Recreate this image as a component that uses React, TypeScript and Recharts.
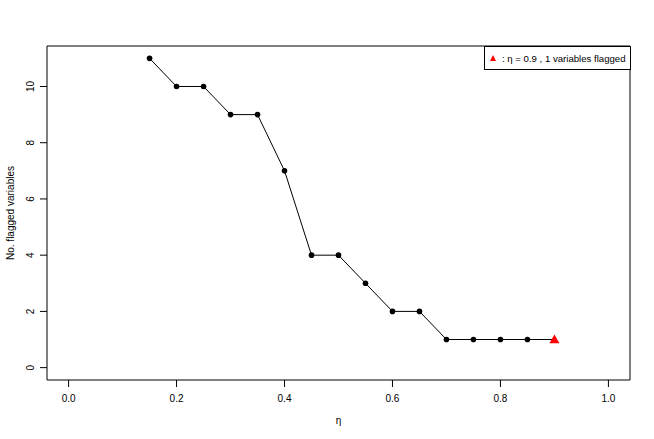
import React from "react";
import {
  ComposedChart,
  Line,
  Scatter,
  XAxis,
  YAxis,
  ReferenceArea,
} from "recharts";

// eta grid and number of flagged variables at each value
const etas = [0.15, 0.2, 0.25, 0.3, 0.35, 0.4, 0.45, 0.5, 0.55, 0.6, 0.65, 0.7, 0.75, 0.8, 0.85, 0.9];
const flagged = [11, 10, 10, 9, 9, 7, 4, 4, 3, 2, 2, 1, 1, 1, 1, 1];

// chosen eta (red triangle)
const chosenEta = [0.9];
const chosenFlagged = [1];

const xTicks = [0, 0.2, 0.4, 0.6, 0.8, 1.0];
const yTicks = [0, 2, 4, 6, 8, 10];

const lineData = etas.map((eta, i) => ({ eta, n: flagged[i] }));
const chosenData = chosenEta.map((eta, i) => ({ eta, n: chosenFlagged[i] }));

const FONT = "'Liberation Sans', Arial, sans-serif";
const FS = 10;

function YTick(props: any) {
  const { y, payload } = props;
  return (
    <g>
      <line x1={40} x2={47} y1={y} y2={y} stroke="#000" />
      <text
        x={31}
        y={y}
        transform={`rotate(-90, 31, ${y})`}
        textAnchor="middle"
        dominantBaseline="central"
        fontSize={FS}
        fontFamily={FONT}
        fill="#000"
      >
        {payload.value}
      </text>
    </g>
  );
}

function XTick(props: any) {
  const { x, payload } = props;
  return (
    <g>
      <line x1={x} x2={x} y1={380} y2={387} stroke="#000" />
      <text
        x={x}
        y={398}
        textAnchor="middle"
        dominantBaseline="central"
        fontSize={FS}
        fontFamily={FONT}
        fill="#000"
      >
        {Number(payload.value).toFixed(1)}
      </text>
    </g>
  );
}

function Dot(props: any) {
  const { cx, cy, payload } = props;
  if (chosenEta.includes(payload.eta)) return <g />;
  return <circle cx={cx} cy={cy} r={2.8} fill="#000" />;
}

function Triangle(props: any) {
  const { cx, cy } = props;
  const s = 5;
  return (
    <polygon
      points={`${cx},${cy - s} ${cx - s},${cy + s * 0.75} ${cx + s},${cy + s * 0.75}`}
      fill="#ff0000"
    />
  );
}

function LegendBox() {
  return (
    <div
      style={{
        position: "absolute",
        left: 484,
        top: 46,
        border: "1px solid #000",
        background: "#fff",
        width: 147,
        height: 24,
        boxSizing: "border-box",
        fontFamily: FONT,
        fontSize: 9.6,
        display: "flex",
        alignItems: "center",
        paddingLeft: 4,
        whiteSpace: "nowrap",
        color: "#000",
      }}
    >
      <svg width={8} height={8} style={{ marginRight: 5 }}>
        <polygon points="4,1 1,7 7,7" fill="#ff0000" />
      </svg>
      <span>: η = 0.9 , 1 variables flagged</span>
    </div>
  );
}

export default function App() {
  return (
    <div style={{ position: "absolute", left: 0, top: 0, width: 654, height: 439, background: "#fff" }}>
      <ComposedChart width={654} height={439} margin={{ top: 46, right: 24, bottom: 0, left: 0 }}>
        <XAxis
          dataKey="eta"
          type="number"
          domain={[-0.04, 1.04]}
          ticks={xTicks}
          allowDataOverflow
          axisLine={false}
          tickLine={false}
          height={59}
          tick={<XTick />}
          label={{
            content: () => (
              <text x={338.5} y={420} textAnchor="middle" dominantBaseline="central" fontSize={FS} fontFamily={FONT} fill="#000">
                η
              </text>
            ),
          }}
        />
        <YAxis
          type="number"
          domain={[-0.44, 11.44]}
          ticks={yTicks}
          allowDataOverflow
          axisLine={false}
          tickLine={false}
          width={47}
          tick={<YTick />}
          label={{
            content: () => (
              <text
                x={10}
                y={213}
                transform="rotate(-90, 10, 213)"
                textAnchor="middle"
                dominantBaseline="central"
                fontSize={FS}
                fontFamily={FONT}
                fill="#000"
              >
                No. flagged variables
              </text>
            ),
          }}
        />
        <ReferenceArea
          x1={-0.04}
          x2={1.04}
          y1={-0.44}
          y2={11.44}
          fill="none"
          stroke="#000"
          strokeWidth={1}
          ifOverflow="visible"
        />
        <Line
          data={lineData}
          dataKey="n"
          type="linear"
          stroke="#000"
          strokeWidth={1}
          dot={<Dot />}
          isAnimationActive={false}
        />
        <Scatter data={chosenData} dataKey="n" shape={<Triangle />} isAnimationActive={false} />
      </ComposedChart>
      <LegendBox />
    </div>
  );
}
